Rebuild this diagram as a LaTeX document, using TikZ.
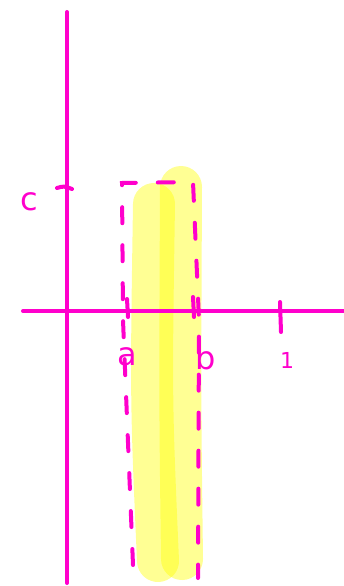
\documentclass[tikz,border=0pt]{standalone}
\usepackage{fontspec}
\setmainfont{DejaVu Sans}
\definecolor{mag}{RGB}{255,0,204}
\definecolor{hl}{RGB}{255,255,0}
\tikzset{
  axis/.style={draw=mag, line width=4pt, line cap=round},
  tick/.style={draw=mag, line width=4pt, line cap=round},
  dashbox/.style={draw=mag, line width=4pt, line cap=round, dash pattern=on 16pt off 22pt},
  hlstroke/.style={draw=hl, line width=42pt, line cap=round, opacity=0.42},
  lbl/.style={text=mag, inner sep=0pt, font=\fontsize{32}{32}\selectfont}
}
\begin{document}
\begin{tikzpicture}[x=1pt,y=-1pt]
\useasboundingbox (0,0) rectangle (344,586);
% highlighter strokes
\draw[hlstroke] (154,204) .. controls (151,400) .. (158,561);
\draw[hlstroke] (181,187) .. controls (180,400) .. (182,559);
% axes
\draw[axis] (67,12) -- (67,583);
\draw[axis] (23,311) -- (344,311);
% ticks
\draw[tick] (57,188) .. controls (64,186) .. (72,189);
\draw[tick] (280,302) -- (281,332);
\draw[tick] (127,299) -- (128,317);
\draw[tick] (193,297) -- (194,317);
% dashed rectangle
\draw[dashbox] (133,565) -- (123,320) -- (122,183) -- (193,182) -- (199,320) -- (198,578);
% labels
\node[lbl] (c) at (29,202) {c};
\node[lbl] (a) at (127,357) {a};
\node[lbl] (b) at (206,358) {b};
\node[lbl, font=\fontsize{22}{22}\selectfont] (one) at (287,360) {1};
\end{tikzpicture}
\end{document}
